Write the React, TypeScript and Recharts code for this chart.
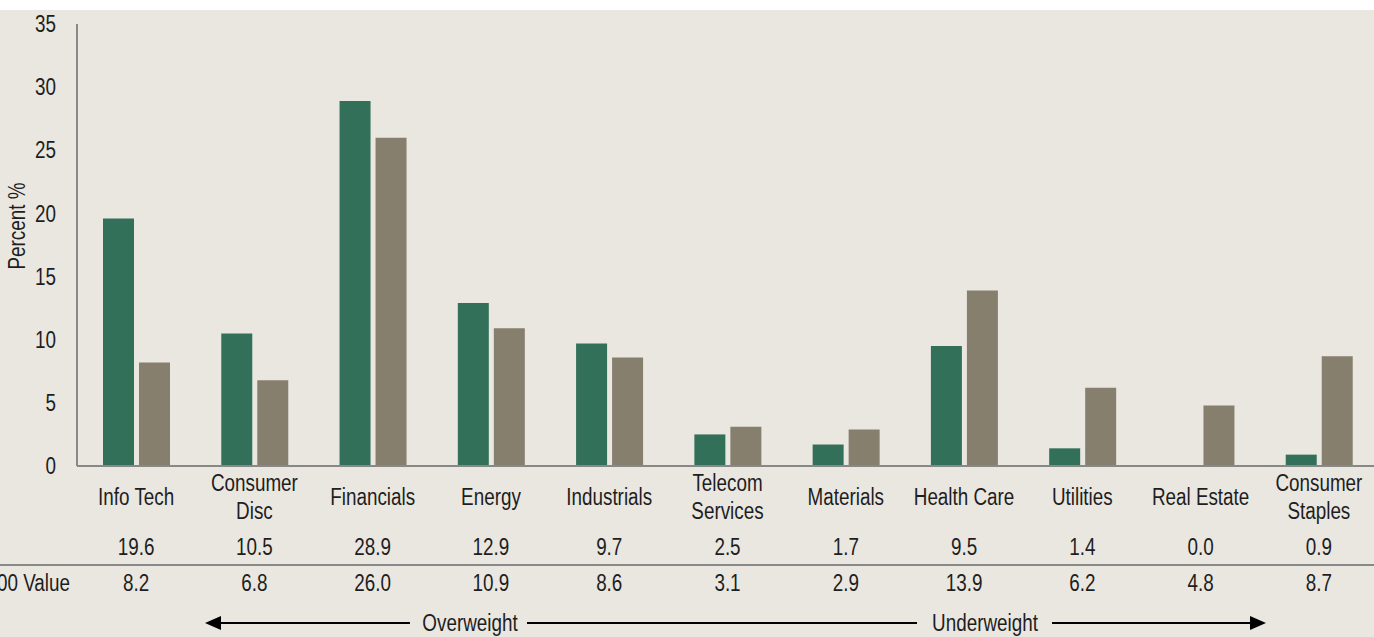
import React from "react";
import { Bar, BarChart, XAxis, YAxis } from "recharts";

const categories = [
  "Info Tech",
  "Consumer\nDisc",
  "Financials",
  "Energy",
  "Industrials",
  "Telecom\nServices",
  "Materials",
  "Health Care",
  "Utilities",
  "Real Estate",
  "Consumer\nStaples",
];
const fundWeights = [19.6, 10.5, 28.9, 12.9, 9.7, 2.5, 1.7, 9.5, 1.4, 0.0, 0.9];
const indexWeights = [8.2, 6.8, 26.0, 10.9, 8.6, 3.1, 2.9, 13.9, 6.2, 4.8, 8.7];
const yTicks = [0, 5, 10, 15, 20, 25, 30, 35];
const indexLabel = "S&P 500 Value";

const data = categories.map((name, i) => ({
  name,
  fund: fundWeights[i],
  index: indexWeights[i],
}));

const FONT = "'Liberation Sans', Arial, sans-serif";
const BG = "#EAE7E1";
const GREEN = "#33705A";
const TAUPE = "#877F6D";
const AXIS = "#888888";
const INK = "#1e1e1e";

// no Arial Narrow offline, so squeeze Liberation Sans horizontally
function Narrow({ x, y, anchor = "middle", rotate = 0, children }: any) {
  return (
    <g transform={`translate(${x},${y}) rotate(${rotate}) scale(0.82,1)`}>
      <text
        x={0}
        y={0}
        textAnchor={anchor}
        dominantBaseline="central"
        fontFamily={FONT}
        fontSize={23}
        fill={INK}
      >
        {children}
      </text>
    </g>
  );
}

function YTick(props: any) {
  const { x, y, payload } = props;
  return <Narrow x={x} y={y} anchor="end">{payload.value}</Narrow>;
}

// category name + the two value rows under each group
function TableTick(props: any) {
  const { x, y, payload } = props;
  const row = data[payload.index];
  const lines = row.name.split("\n");
  const labelYs = lines.length === 1 ? [31] : [17, 45];
  return (
    <g>
      {lines.map((l: string, i: number) => (
        <Narrow key={i} x={x} y={y + labelYs[i]}>{l}</Narrow>
      ))}
      <Narrow x={x} y={y + 81}>{row.fund.toFixed(1)}</Narrow>
      <Narrow x={x} y={y + 117}>{row.index.toFixed(1)}</Narrow>
    </g>
  );
}

export default function App() {
  return (
    <div
      style={{
        position: "absolute",
        left: 0,
        top: 0,
        width: 1374,
        height: 637,
        overflow: "hidden",
        background: "#ffffff",
      }}
    >
      <div style={{ position: "absolute", left: 0, top: 10, width: 1400, height: 627, background: BG }}>
        <BarChart
          width={1400}
          height={627}
          data={data}
          margin={{ top: 14, right: 22, bottom: 0, left: 0 }}
          barSize={31}
          barGap={5}
        >
          <YAxis
            width={77}
            domain={[0, 35]}
            ticks={yTicks}
            interval={0}
            tickLine={false}
            tickSize={0}
            tickMargin={21}
            axisLine={{ stroke: AXIS, strokeWidth: 2 }}
            tick={<YTick />}
          />
          <XAxis
            dataKey="name"
            interval={0}
            tickLine={false}
            tickSize={0}
            tickMargin={0}
            height={171}
            axisLine={{ stroke: AXIS, strokeWidth: 2 }}
            tick={<TableTick />}
          />
          <Bar dataKey="fund" fill={GREEN} isAnimationActive={false} />
          <Bar dataKey="index" fill={TAUPE} isAnimationActive={false} />
        </BarChart>
      </div>
      <svg
        width={1374}
        height={637}
        style={{ position: "absolute", left: 0, top: 0, pointerEvents: "none" }}
      >
        <Narrow x={17} y={226} rotate={-90}>Percent %</Narrow>
        <line x1={0} x2={1374} y1={565} y2={565} stroke={AXIS} strokeWidth={2} />
        <Narrow x={70} y={583} anchor="end">{indexLabel}</Narrow>
        <g stroke="#000" strokeWidth={2}>
          <line x1={218} x2={410} y1={623} y2={623} />
          <line x1={527} x2={917} y1={623} y2={623} />
          <line x1={1052} x2={1252} y1={623} y2={623} />
        </g>
        <polygon points="205,623 221,616 221,630" fill="#000" />
        <polygon points="1266,623 1250,616 1250,630" fill="#000" />
        <Narrow x={470} y={623}>Overweight</Narrow>
        <Narrow x={985} y={623}>Underweight</Narrow>
      </svg>
    </div>
  );
}
